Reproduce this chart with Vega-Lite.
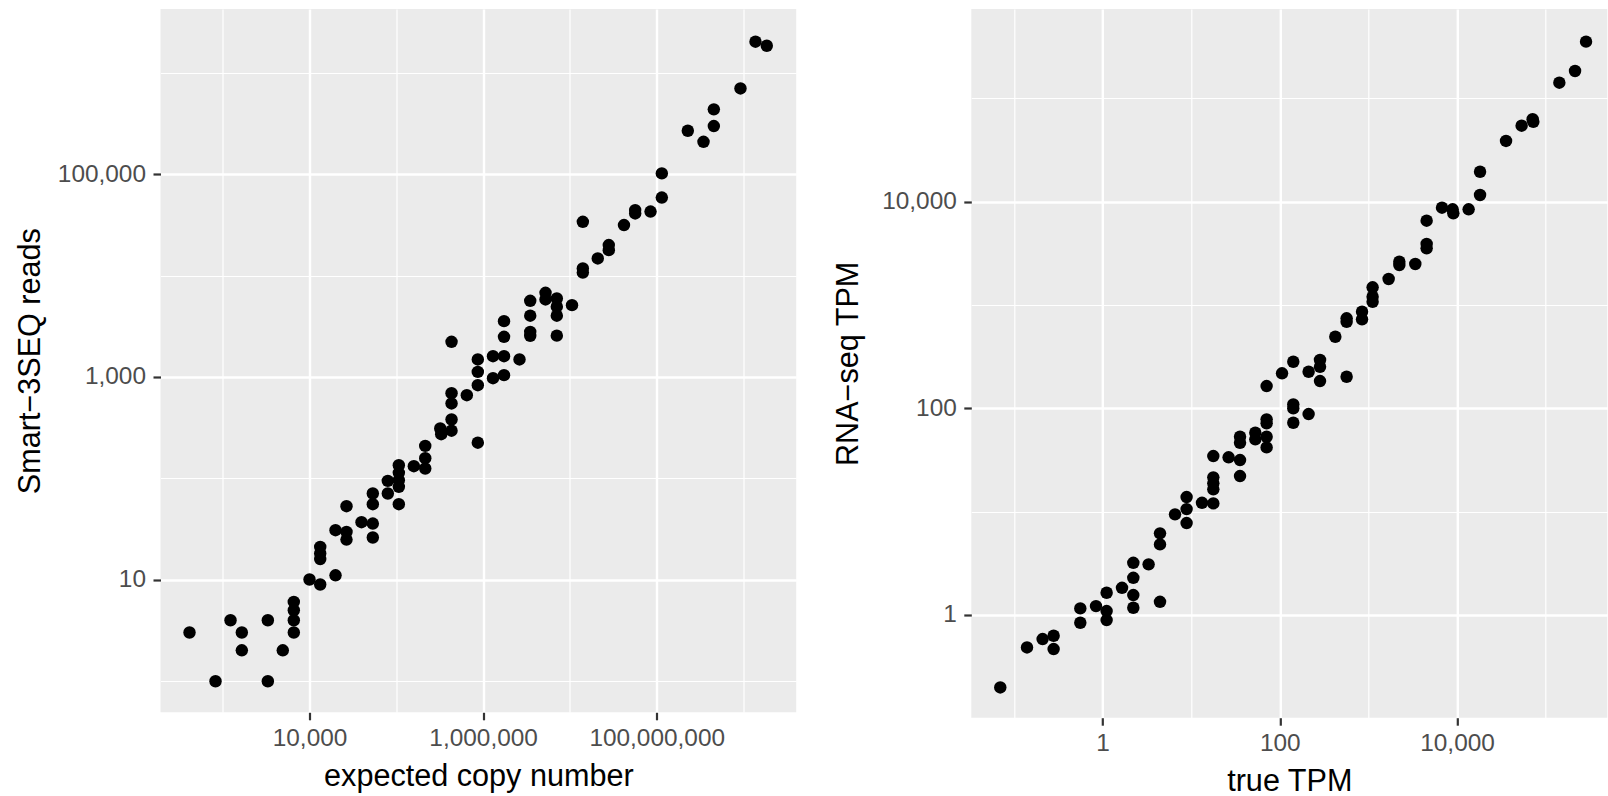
{
  "$schema": "https://vega.github.io/schema/vega-lite/v6.json",
  "padding": {"left": 15.5, "top": 9, "right": 0, "bottom": 0},
  "spacing": 36.8,
  "config": {
    "font": "Liberation Sans",
    "view": {"fill": "#EBEBEB", "stroke": null},
    "axis": {
      "domain": false,
      "gridColor": "#FFFFFF",
      "tickColor": "#333333",
      "tickWidth": 2.2,
      "tickSize": 7.5,
      "labelColor": "#4D4D4D",
      "labelFontSize": 24.4,
      "titleFontSize": 30.6,
      "titleFontWeight": "normal",
      "titleColor": "#000000",
      "labelFont": "Liberation Sans",
      "titleFont": "Liberation Sans",
      "labelOverlap": false,
      "labelFlush": false
    },
    "axisX": {"labelPadding": 6.5, "titlePadding": 12},
    "axisY": {"labelPadding": 7.5}
  },
  "datasets": {
    "smart": [
      {"expected": 414.4, "reads": 3.00},
      {"expected": 826, "reads": 0.99},
      {"expected": 1230, "reads": 3.96},
      {"expected": 1660, "reads": 3.00},
      {"expected": 1660, "reads": 2.00},
      {"expected": 3310, "reads": 3.96},
      {"expected": 3310, "reads": 0.99},
      {"expected": 4920, "reads": 2.00},
      {"expected": 6590, "reads": 6.01},
      {"expected": 6590, "reads": 4.97},
      {"expected": 6590, "reads": 3.96},
      {"expected": 6590, "reads": 3.00},
      {"expected": 10000, "reads": 10.0},
      {"expected": 13280, "reads": 21.0},
      {"expected": 13280, "reads": 18.1},
      {"expected": 13280, "reads": 15.9},
      {"expected": 13280, "reads": 8.93},
      {"expected": 19930, "reads": 30.7},
      {"expected": 19930, "reads": 11.0},
      {"expected": 26670, "reads": 53.0},
      {"expected": 26670, "reads": 29.5},
      {"expected": 26670, "reads": 24.8},
      {"expected": 39720, "reads": 36.8},
      {"expected": 53580, "reads": 70.7},
      {"expected": 53580, "reads": 55.4},
      {"expected": 53580, "reads": 35.7},
      {"expected": 53580, "reads": 26.0},
      {"expected": 79800, "reads": 94.2},
      {"expected": 79800, "reads": 70.7},
      {"expected": 106900, "reads": 134.6},
      {"expected": 106900, "reads": 113},
      {"expected": 106900, "reads": 95.7},
      {"expected": 106900, "reads": 82.2},
      {"expected": 106900, "reads": 55.4},
      {"expected": 159200, "reads": 131.5},
      {"expected": 215300, "reads": 208.6},
      {"expected": 215300, "reads": 157.8},
      {"expected": 215300, "reads": 124.8},
      {"expected": 320600, "reads": 309.9},
      {"expected": 329000, "reads": 272.3},
      {"expected": 432700, "reads": 2222},
      {"expected": 432700, "reads": 691.8},
      {"expected": 432700, "reads": 547.5},
      {"expected": 432700, "reads": 380.3},
      {"expected": 432700, "reads": 294.9},
      {"expected": 649000, "reads": 660.9},
      {"expected": 868600, "reads": 1489},
      {"expected": 868600, "reads": 1122},
      {"expected": 868600, "reads": 829.8},
      {"expected": 868600, "reads": 224.4},
      {"expected": 1300000, "reads": 1604},
      {"expected": 1300000, "reads": 973},
      {"expected": 1741000, "reads": 3557},
      {"expected": 1741000, "reads": 2489},
      {"expected": 1741000, "reads": 1604},
      {"expected": 1741000, "reads": 1042},
      {"expected": 2625000, "reads": 1489},
      {"expected": 3490000, "reads": 5646},
      {"expected": 3490000, "reads": 4027},
      {"expected": 3490000, "reads": 2788},
      {"expected": 3490000, "reads": 2547},
      {"expected": 5236000, "reads": 6770},
      {"expected": 5236000, "reads": 5825},
      {"expected": 7063000, "reads": 5960},
      {"expected": 7063000, "reads": 4946},
      {"expected": 7063000, "reads": 4027},
      {"expected": 7063000, "reads": 2559},
      {"expected": 10570000, "reads": 5117},
      {"expected": 14090000, "reads": 34040},
      {"expected": 14090000, "reads": 11800},
      {"expected": 14090000, "reads": 10720},
      {"expected": 20940000, "reads": 14800},
      {"expected": 28050000, "reads": 20040},
      {"expected": 28050000, "reads": 17870},
      {"expected": 41970000, "reads": 31580},
      {"expected": 56480000, "reads": 44390},
      {"expected": 56480000, "reads": 41180},
      {"expected": 84880000, "reads": 42940},
      {"expected": 114500000, "reads": 102300},
      {"expected": 114500000, "reads": 59020},
      {"expected": 228100000, "reads": 269800},
      {"expected": 345900000, "reads": 209900},
      {"expected": 455000000, "reads": 438600},
      {"expected": 455000000, "reads": 299800},
      {"expected": 922600000, "reads": 706300},
      {"expected": 1374000000, "reads": 2042000},
      {"expected": 1854000000, "reads": 1862000}
    ],
    "rnaseq": [
      {"true_tpm": 0.0700, "rnaseq_tpm": 0.199},
      {"true_tpm": 0.1402, "rnaseq_tpm": 0.485},
      {"true_tpm": 0.2103, "rnaseq_tpm": 0.585},
      {"true_tpm": 0.280, "rnaseq_tpm": 0.630},
      {"true_tpm": 0.280, "rnaseq_tpm": 0.468},
      {"true_tpm": 0.560, "rnaseq_tpm": 1.159},
      {"true_tpm": 0.560, "rnaseq_tpm": 0.841},
      {"true_tpm": 0.842, "rnaseq_tpm": 1.219},
      {"true_tpm": 1.110, "rnaseq_tpm": 1.641},
      {"true_tpm": 1.110, "rnaseq_tpm": 1.091},
      {"true_tpm": 1.110, "rnaseq_tpm": 0.893},
      {"true_tpm": 1.656, "rnaseq_tpm": 1.834},
      {"true_tpm": 2.221, "rnaseq_tpm": 3.199},
      {"true_tpm": 2.221, "rnaseq_tpm": 2.291},
      {"true_tpm": 2.221, "rnaseq_tpm": 1.559},
      {"true_tpm": 2.221, "rnaseq_tpm": 1.175},
      {"true_tpm": 3.305, "rnaseq_tpm": 3.090},
      {"true_tpm": 4.443, "rnaseq_tpm": 6.166},
      {"true_tpm": 4.443, "rnaseq_tpm": 4.823},
      {"true_tpm": 4.443, "rnaseq_tpm": 1.342},
      {"true_tpm": 6.566, "rnaseq_tpm": 9.419},
      {"true_tpm": 8.873, "rnaseq_tpm": 13.85},
      {"true_tpm": 8.873, "rnaseq_tpm": 10.59},
      {"true_tpm": 8.873, "rnaseq_tpm": 7.757},
      {"true_tpm": 13.24, "rnaseq_tpm": 12.19},
      {"true_tpm": 17.76, "rnaseq_tpm": 34.53},
      {"true_tpm": 17.76, "rnaseq_tpm": 21.48},
      {"true_tpm": 17.76, "rnaseq_tpm": 18.79},
      {"true_tpm": 17.76, "rnaseq_tpm": 16.44},
      {"true_tpm": 17.76, "rnaseq_tpm": 12.03},
      {"true_tpm": 26.43, "rnaseq_tpm": 33.56},
      {"true_tpm": 35.55, "rnaseq_tpm": 53.1},
      {"true_tpm": 35.55, "rnaseq_tpm": 46.45},
      {"true_tpm": 35.55, "rnaseq_tpm": 31.59},
      {"true_tpm": 35.55, "rnaseq_tpm": 22.13},
      {"true_tpm": 52.9, "rnaseq_tpm": 58.03},
      {"true_tpm": 52.9, "rnaseq_tpm": 50.1},
      {"true_tpm": 70.96, "rnaseq_tpm": 164.4},
      {"true_tpm": 70.96, "rnaseq_tpm": 78.24},
      {"true_tpm": 70.96, "rnaseq_tpm": 71.6},
      {"true_tpm": 70.96, "rnaseq_tpm": 53.1},
      {"true_tpm": 70.96, "rnaseq_tpm": 41.9},
      {"true_tpm": 105.9, "rnaseq_tpm": 218.2},
      {"true_tpm": 141.9, "rnaseq_tpm": 282.6},
      {"true_tpm": 141.9, "rnaseq_tpm": 109.3},
      {"true_tpm": 141.9, "rnaseq_tpm": 100},
      {"true_tpm": 141.9, "rnaseq_tpm": 72.55},
      {"true_tpm": 211.4, "rnaseq_tpm": 226},
      {"true_tpm": 211.4, "rnaseq_tpm": 88.1},
      {"true_tpm": 284.2, "rnaseq_tpm": 293.6},
      {"true_tpm": 284.2, "rnaseq_tpm": 252.8},
      {"true_tpm": 284.2, "rnaseq_tpm": 183.7},
      {"true_tpm": 422.9, "rnaseq_tpm": 493.2},
      {"true_tpm": 567.5, "rnaseq_tpm": 743.3},
      {"true_tpm": 567.5, "rnaseq_tpm": 688.7},
      {"true_tpm": 567.5, "rnaseq_tpm": 202.3},
      {"true_tpm": 847, "rnaseq_tpm": 861},
      {"true_tpm": 847, "rnaseq_tpm": 727.8},
      {"true_tpm": 1115, "rnaseq_tpm": 1483},
      {"true_tpm": 1115, "rnaseq_tpm": 1203},
      {"true_tpm": 1115, "rnaseq_tpm": 1076},
      {"true_tpm": 1691, "rnaseq_tpm": 1786},
      {"true_tpm": 2233, "rnaseq_tpm": 2624},
      {"true_tpm": 2233, "rnaseq_tpm": 2438},
      {"true_tpm": 3382, "rnaseq_tpm": 2495},
      {"true_tpm": 4540, "rnaseq_tpm": 6546},
      {"true_tpm": 4540, "rnaseq_tpm": 3895},
      {"true_tpm": 4540, "rnaseq_tpm": 3540},
      {"true_tpm": 6770, "rnaseq_tpm": 8750},
      {"true_tpm": 8918, "rnaseq_tpm": 8440},
      {"true_tpm": 9080, "rnaseq_tpm": 7723},
      {"true_tpm": 13520, "rnaseq_tpm": 8440},
      {"true_tpm": 18190, "rnaseq_tpm": 19500},
      {"true_tpm": 18190, "rnaseq_tpm": 11610},
      {"true_tpm": 35730, "rnaseq_tpm": 38730},
      {"true_tpm": 53580, "rnaseq_tpm": 54450},
      {"true_tpm": 71290, "rnaseq_tpm": 62810},
      {"true_tpm": 72600, "rnaseq_tpm": 59430},
      {"true_tpm": 142800, "rnaseq_tpm": 141900},
      {"true_tpm": 214800, "rnaseq_tpm": 184100},
      {"true_tpm": 285800, "rnaseq_tpm": 354000}
    ]
  },
  "hconcat": [
    {
      "width": 635.7,
      "height": 703.3,
      "data": {"name": "smart"},
      "mark": {"type": "circle", "size": 155, "color": "#000000", "opacity": 1},
      "encoding": {
        "x": {
          "field": "expected",
          "type": "quantitative",
          "scale": {"type": "log", "domain": [191.9, 4046000000], "nice": false},
          "axis": {
            "title": "expected copy number",
            "values": [1000, 10000, 100000, 1000000, 10000000, 100000000, 1000000000],
            "labelExpr": "abs(round(log(datum.value)/LN10)) % 2 == 0 ? format(datum.value, ',') : ''",
            "gridWidth": {"condition": {"test": "abs(round(log(datum.value)/LN10)) % 2 == 1", "value": 1.2}, "value": 2.4},
            "tickOpacity": {"condition": {"test": "abs(round(log(datum.value)/LN10)) % 2 == 1", "value": 0}, "value": 1}
          }
        },
        "y": {
          "field": "reads",
          "type": "quantitative",
          "scale": {"type": "log", "domain": [0.4887, 4295000], "nice": false},
          "axis": {
            "title": "Smart−3SEQ reads",
            "titlePadding": 11.4,
            "values": [1, 10, 100, 1000, 10000, 100000, 1000000],
            "labelExpr": "abs(round(log(datum.value)/LN10)) % 2 == 1 ? format(datum.value, ',') : ''",
            "gridWidth": {"condition": {"test": "abs(round(log(datum.value)/LN10)) % 2 == 0", "value": 1.2}, "value": 2.4},
            "tickOpacity": {"condition": {"test": "abs(round(log(datum.value)/LN10)) % 2 == 0", "value": 0}, "value": 1}
          }
        }
      }
    },
    {
      "width": 636,
      "height": 708.7,
      "data": {"name": "rnaseq"},
      "mark": {"type": "circle", "size": 155, "color": "#000000", "opacity": 1},
      "encoding": {
        "x": {
          "field": "true_tpm",
          "type": "quantitative",
          "scale": {"type": "log", "domain": [0.03296, 496600], "nice": false},
          "axis": {
            "title": "true TPM",
            "titlePadding": 11,
            "values": [0.1, 1, 10, 100, 1000, 10000, 100000],
            "labelExpr": "abs(round(log(datum.value)/LN10)) % 2 == 0 ? format(datum.value, ',') : ''",
            "gridWidth": {"condition": {"test": "abs(round(log(datum.value)/LN10)) % 2 == 1", "value": 1.2}, "value": 2.4},
            "tickOpacity": {"condition": {"test": "abs(round(log(datum.value)/LN10)) % 2 == 1", "value": 0}, "value": 1}
          }
        },
        "y": {
          "field": "rnaseq_tpm",
          "type": "quantitative",
          "scale": {"type": "log", "domain": [0.1014, 732800], "nice": false},
          "axis": {
            "title": "RNA−seq TPM",
            "titlePadding": 17.7,
            "values": [1, 10, 100, 1000, 10000, 100000],
            "labelExpr": "abs(round(log(datum.value)/LN10)) % 2 == 0 ? format(datum.value, ',') : ''",
            "gridWidth": {"condition": {"test": "abs(round(log(datum.value)/LN10)) % 2 == 1", "value": 1.2}, "value": 2.4},
            "tickOpacity": {"condition": {"test": "abs(round(log(datum.value)/LN10)) % 2 == 1", "value": 0}, "value": 1}
          }
        }
      }
    }
  ]
}
